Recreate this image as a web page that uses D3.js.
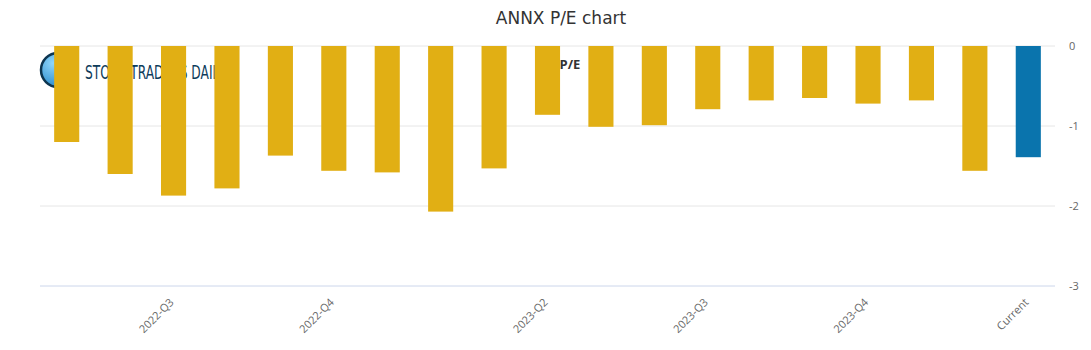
<!DOCTYPE html>
<html>
<head>
<meta charset="utf-8">
<script src="https://cdn.jsdelivr.net/npm/d3@7"></script>
<style>
  body { margin: 0; background: #fff; }
  svg { display: block; }
</style>
</head>
<body>
<script>
// P/E values, one per bar
var peValues = [-1.2, -1.6, -1.87, -1.78, -1.37, -1.56, -1.58, -2.07, -1.53, -0.86,
                -1.01, -0.99, -0.79, -0.68, -0.65, -0.72, -0.68, -1.56, -1.39];
// x tick labels, placed on the bar with the same index
var tickLabels = {2: "2022-Q3", 5: "2022-Q4", 9: "2023-Q2", 12: "2023-Q3", 15: "2023-Q4", 18: "Current"};
var yTicks = [0, -1, -2, -3];

var W = 1091, H = 350;
var margin = {top: 46, right: 36, bottom: 64, left: 40},
    width = W - margin.left - margin.right,
    height = H - margin.top - margin.bottom;

var svg = d3.select("body").append("svg")
    .attr("width", W)
    .attr("height", H)
    .style("font-family", "'Open Sans', 'DejaVu Sans', sans-serif");

svg.append("text")
    .attr("x", 561).attr("y", 24)
    .attr("text-anchor", "middle")
    .style("font-family", "'DejaVu Sans', sans-serif")
    .style("font-size", "17px")
    .attr("fill", "#333333")
    .text("ANNX P/E chart");

var g = svg.append("g")
    .attr("transform", "translate(" + margin.left + "," + margin.top + ")");

var xScale = d3.scaleBand().domain(d3.range(peValues.length)).range([0, width]).paddingInner(0.53).paddingOuter(0.265);
var yScale = d3.scaleLinear().domain([-3, 0]).range([height, 0]);

// gridlines
g.selectAll(".grid")
    .data(yTicks.filter(function(d) { return d !== -3; }))
    .enter().append("line")
    .attr("x1", 0).attr("x2", width)
    .attr("y1", function(d) { return yScale(d); })
    .attr("y2", function(d) { return yScale(d); })
    .attr("stroke", "#e6e6e6");

// watermark
var wm = g.append("g");
var grad = svg.append("defs").append("radialGradient").attr("id", "logoFill")
    .attr("cx", "35%").attr("cy", "30%").attr("r", "70%");
grad.append("stop").attr("offset", "0%").attr("stop-color", "#8fd6fb");
grad.append("stop").attr("offset", "100%").attr("stop-color", "#2f8fcf");
wm.append("circle").attr("cx", 18).attr("cy", 24).attr("r", 17)
    .attr("fill", "url(#logoFill)").attr("stroke", "#0d3550").attr("stroke-width", 2.5);
wm.append("text").attr("x", 45).attr("y", 33)
    .style("font-family", "'DejaVu Sans Condensed', 'DejaVu Sans', sans-serif")
    .style("font-size", "19px")
    .attr("textLength", 140)
    .attr("lengthAdjust", "spacingAndGlyphs")
    .attr("fill", "#0d3b5a")
    .text("STOCK TRADERS DAILY");
wm.append("text").attr("x", 530).attr("y", 23)
    .attr("text-anchor", "middle")
    .style("font-size", "13px").style("font-weight", "bold")
    .attr("fill", "#333333")
    .text("P/E");

// bars
g.selectAll(".bar")
    .data(peValues)
    .enter().append("rect")
    .attr("x", function(d, i) { return xScale(i); })
    .attr("width", xScale.bandwidth())
    .attr("y", yScale(0))
    .attr("height", function(d) { return yScale(d) - yScale(0); })
    .attr("fill", function(d, i) { return i === peValues.length - 1 ? "#0a74ad" : "#e1af14"; });

// bottom axis line
g.append("line")
    .attr("x1", 0).attr("x2", width)
    .attr("y1", height).attr("y2", height)
    .attr("stroke", "#ccd6eb");

// right axis labels
g.selectAll(".ylab")
    .data(yTicks)
    .enter().append("text")
    .attr("x", width + 14)
    .attr("y", function(d) { return yScale(d) + 4; })
    .style("font-size", "11px")
    .attr("fill", "#666666")
    .text(function(d) { return d; });

// x labels
g.selectAll(".xlab")
    .data(Object.keys(tickLabels))
    .enter().append("text")
    .attr("text-anchor", "end")
    .attr("transform", function(k) {
        var x = xScale(+k) + xScale.bandwidth() / 2 + 1;
        return "translate(" + x + "," + (height + 17) + ") rotate(-45)";
    })
    .style("font-size", "11px")
    .attr("fill", "#666666")
    .text(function(k) { return tickLabels[k]; });
</script>
</body>
</html>
